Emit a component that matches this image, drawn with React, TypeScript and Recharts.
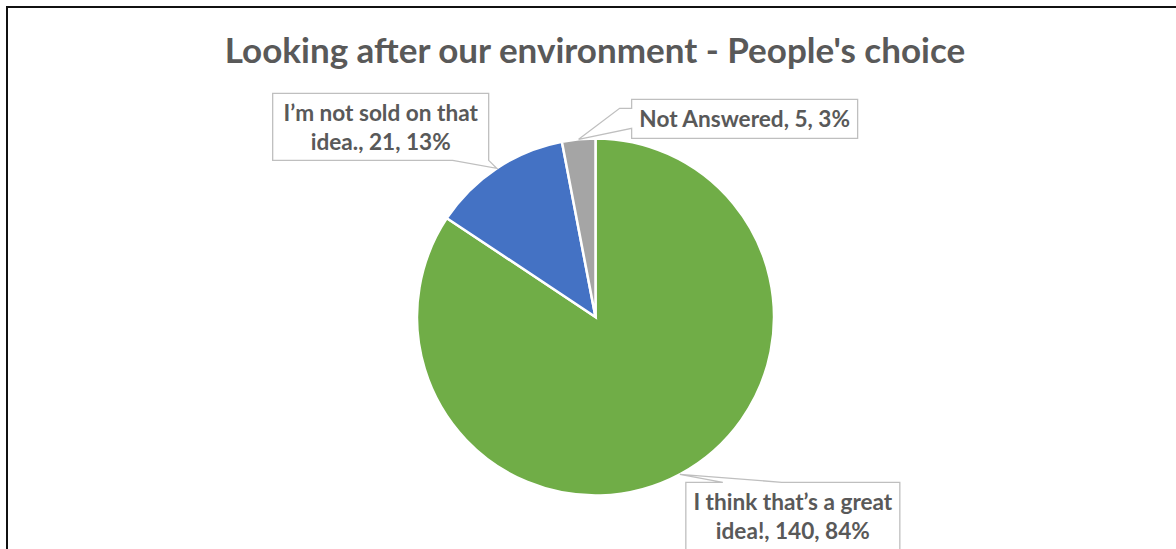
import { PieChart, Pie, Cell } from 'recharts'

// survey answers
const categories = ['I think that’s a great idea!', 'I’m not sold on that idea.', 'Not Answered']
const counts = [140, 21, 5]
const sliceColors = ['#70AD47', '#4472C4', '#A5A5A5']

const chartTitle = "Looking after our environment - People's choice"

const total = counts.reduce((a, b) => a + b, 0)
const data = categories.map((name, i) => ({ name, value: counts[i] }))

const TEXT = '#595959'
const FONT = 'Lato, "Open Sans", sans-serif'
const RADIAN = Math.PI / 180

// callout box placement, relative to the point on the slice edge
const CALLOUTS = [
  { dx: 6, dy: 8, w: 214, h: 68, side: 'top', p0: 37, p1: 96 },
  { dx: -224, dy: -75, w: 216, h: 67, side: 'bottom', p0: 180, p1: 216 },
  { dx: 53, dy: -40, w: 226, h: 39, side: 'left', p0: 9, p1: 29, kx: -12 },
]

function wrap(text: string, maxChars: number) {
  const lines: string[] = []
  let cur = ''
  text.split(' ').forEach(word => {
    const next = cur ? cur + ' ' + word : word
    if (next.length > maxChars && cur) {
      lines.push(cur)
      cur = word
    } else cur = next
  })
  if (cur) lines.push(cur)
  return lines
}

function CalloutLabel(props: any) {
  const { cx, cy, midAngle, outerRadius, index, name, value } = props
  const ax = cx + outerRadius * Math.cos(-midAngle * RADIAN)
  const ay = cy + outerRadius * Math.sin(-midAngle * RADIAN)
  const c = CALLOUTS[index]
  const left = ax + c.dx
  const top = ay + c.dy
  const right = left + c.w
  const bottom = top + c.h

  let d = ''
  if (c.side === 'top') {
    d = `M${left},${top} L${left + c.p0},${top} L${ax},${ay} L${left + c.p1},${top} L${right},${top} L${right},${bottom} L${left},${bottom} Z`
  } else if (c.side === 'bottom') {
    d = `M${left},${top} L${right},${top} L${right},${bottom} L${left + c.p1},${bottom} L${ax},${ay} L${left + c.p0},${bottom} L${left},${bottom} Z`
  } else {
    d = `M${left},${top} L${right},${top} L${right},${bottom} L${left},${bottom} L${left},${top + c.p1} L${ax},${ay} L${left + (c.kx || 0)},${top + c.p0} L${left},${top + c.p0} Z`
  }

  const pct = Math.round((value / total) * 100)
  const lines = wrap(`${name}, ${value}, ${pct}%`, 22)

  return (
    <g>
      <path d={d} fill="#fff" stroke="#BFBFBF" strokeWidth={1.3} />
      {lines.map((ln, i) => (
        <text key={i} x={left + c.w / 2} y={top + 28 + i * 28.5} textAnchor="middle"
          fill={TEXT} fontSize={22.6} fontWeight="bold" fontFamily={FONT}>
          {ln}
        </text>
      ))}
    </g>
  )
}

export default function App() {
  return (
    <div style={{
      position: 'absolute', left: 0, top: 0, width: 1176, height: 549,
      overflow: 'hidden', background: '#fff',
    }}>
      {/* chart frame, only top and left edges are in view */}
      <div style={{
        position: 'absolute', left: 6, top: 6, width: 1200, height: 600,
        borderTop: '2px solid #111', borderLeft: '2px solid #111',
      }} />
      <PieChart width={1176} height={549} margin={{ top: 0, right: 0, bottom: 0, left: 0 }}
        style={{ position: 'absolute', left: 0, top: 0 }}>
        <Pie
          data={data}
          dataKey="value"
          nameKey="name"
          cx={595.5}
          cy={317}
          outerRadius={178.5}
          startAngle={90}
          endAngle={-270}
          stroke="#fff"
          strokeWidth={2.5}
          label={CalloutLabel}
          labelLine={false}
          isAnimationActive={false}
        >
          {data.map((d, i) => <Cell key={d.name} fill={sliceColors[i]} />)}
        </Pie>
      </PieChart>
      <svg width={1176} height={549} style={{ position: 'absolute', left: 0, top: 0, pointerEvents: 'none' }}>
        <text x={595} y={63} textAnchor="middle" fill={TEXT} fontSize={35}
          fontWeight="bold" fontFamily={FONT}>
          {chartTitle}
        </text>
      </svg>
    </div>
  )
}
